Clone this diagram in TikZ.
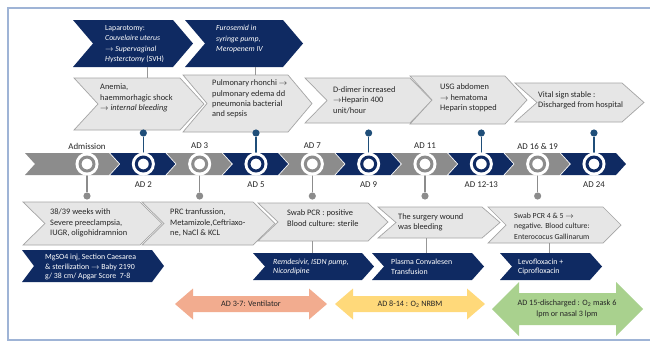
\documentclass[tikz,border=0pt]{standalone}
\usepackage{fontspec}
\setmainfont{Carlito}
\definecolor{navy}{HTML}{0F2A62}
\definecolor{pinblue}{HTML}{1F4E79}
\definecolor{bandgrey}{HTML}{8C8C8C}
\definecolor{boxgrey}{HTML}{E6E6E6}
\definecolor{boxline}{HTML}{A5A5A5}
\definecolor{txt}{HTML}{262626}
\definecolor{frame}{HTML}{9FB4D6}
\definecolor{salmon}{HTML}{F2AC8F}
\definecolor{gold}{HTML}{FFD97A}
\definecolor{leaf}{HTML}{A9D18E}
\tikzset{
  navybox/.style={fill=navy},
  greybox/.style={fill=boxgrey, draw=boxline, line width=0.7},
  navytext/.style={text=white, font=\fontsize{7.8}{10.5}\selectfont, align=left, anchor=west, inner sep=0},
  navysmall/.style={text=white, font=\fontsize{7.9}{9.6}\selectfont, align=left, anchor=west, inner sep=0},
  greytext/.style={text=txt, font=\fontsize{8.4}{10.4}\selectfont, align=left, anchor=west, inner sep=0},
  greysmall/.style={text=txt, font=\fontsize{7.8}{10.5}\selectfont, align=left, anchor=west, inner sep=0},
  daylabel/.style={text=txt, font=\fontsize{8.9}{10}\selectfont, inner sep=0},
  arrowtext/.style={text=txt, font=\fontsize{8.2}{10.5}\selectfont, align=center, inner sep=0},
  link/.style={draw=bandgrey!90, line width=0.9},
  ringnavy/.style={circle, inner sep=0, minimum size=14, fill=white, draw=navy, line width=3, preaction={draw=white, line width=9}},
  ringgrey/.style={circle, inner sep=0, minimum size=14, fill=white, draw=bandgrey, line width=3, preaction={draw=white, line width=9}},
  pintop/.style={circle, inner sep=0, minimum size=7.2, fill=pinblue},
  pinbot/.style={circle, inner sep=0, minimum size=7.2, fill=bandgrey},
}
% chevron: style, L, R, T, B, depth
\newcommand\chev[6]{%
  \path[#1] (#2,#4) -- (#3,#4) -- ({#3+#6},{(#4+#5)/2}) -- (#3,#5) -- (#2,#5) -- ({#2+#6},{(#4+#5)/2}) -- cycle;}
% double arrow: style, xl, xr, yc, head half, shaft half, head length
\newcommand\dblarrow[7]{%
  \path[#1] (#2,#4) -- ({#2+#7},{#4-#5}) -- ({#2+#7},{#4-#6}) -- ({#3-#7},{#4-#6}) -- ({#3-#7},{#4-#5})
    -- (#3,#4) -- ({#3-#7},{#4+#5}) -- ({#3-#7},{#4+#6}) -- ({#2+#7},{#4+#6}) -- ({#2+#7},{#4+#5}) -- cycle;}
\begin{document}
\begin{tikzpicture}[x=1bp,y=-1bp]
\useasboundingbox (0,0) rectangle (650,342);
\fill[white] (0,0) rectangle (650,342);
\draw[frame, line width=1.3] (8,8) rectangle (665,340);

% ---------- top navy row ----------
\chev{navybox}{73}{173}{20}{67}{20}
\node[navytext] (n1) at (105,44) {Laparotomy:\\ \textit{Couvelaire uterus}\\ \textit{$\rightarrow$ Supervaginal}\\ \textit{Hysterctomy} (SVH)};
\chev{navybox}{185}{283}{20}{67}{20}
\node[navytext] (n2) at (216,39) {\textit{Furosemid in}\\ \textit{syringe pump,}\\ \textit{Meropenem IV}};

% ---------- top grey row ----------
\chev{greybox}{74}{180}{78}{130}{24}
\node[greytext] (g1) at (100,98) {Anemia,\\ haemmorhagic shock\\ $\rightarrow$ \textit{internal bleeding}};
\chev{greybox}{183}{288}{75}{132}{24}
\node[greytext] (g2) at (212,99) {Pulmonary rhonchi $\rightarrow$\\ pulmonary edema dd\\ pneumonia bacterial\\ and sepsis};
\chev{greybox}{305}{410}{78}{123}{22}
\node[greytext] (g3) at (333,100) {D-dimer increased\\ $\rightarrow$Heparin 400\\ unit/hour};
\chev{greybox}{410}{505}{76}{124}{22}
\node[greytext] (g4) at (440,98) {USG abdomen\\ $\rightarrow$ hematoma\\ Heparin stopped};
\chev{greybox}{515}{622}{83}{122}{22}
\node[greytext] (g5) at (538,100) {Vital sign stable :\\ Discharged from hospital};

\coordinate (n1b) at (147,67); \coordinate (g1t) at (147,78);
\coordinate (n2b) at (255,67); \coordinate (g2t) at (255,75);
\draw[link] (n1b) -- (g1t);
\draw[link] (n2b) -- (g2t);

% ---------- timeline band ----------
\foreach \k in {0,...,9}{
  \pgfmathsetmacro\c{87+56.33*\k}
  \pgfmathsetmacro\L{ifthenelse(\k==0,25,\c-33)}
  \pgfmathparse{int(mod(\k,2))}
  \ifnum\pgfmathresult=0 \def\col{bandgrey}\else\def\col{navy}\fi
  \fill[\col] (\L,153) -- ({\c+22},153) -- ({\c+32},164) -- ({\c+22},175) -- (\L,175) -- ({\L+10},164) -- cycle;
}
% pins
\foreach \k in {1,3,5,7,9}{
  \pgfmathsetmacro\c{87+56.33*\k}
  \node[pintop] (p\k) at (\c,133) {};
  \coordinate (q\k) at (\c,164);
  \draw[pinblue, line width=1.3] (q\k) -- (p\k);
}
\foreach \k in {0,2,4,6,8}{
  \pgfmathsetmacro\c{87+56.33*\k}
  \node[pinbot] (p\k) at (\c,196) {};
  \coordinate (q\k) at (\c,164);
  \draw[bandgrey, line width=1.3] (q\k) -- (p\k);
}
% rings
\foreach \k in {0,2,4,6,8}{
  \pgfmathsetmacro\c{87+56.33*\k}
  \node[ringgrey] (t\k) at (\c,164) {};
}
\foreach \k in {1,3,5,7,9}{
  \pgfmathsetmacro\c{87+56.33*\k}
  \node[ringnavy] (t\k) at (\c,164) {};
}
% day labels
\foreach \k/\lab in {0/Admission,2/AD 3,4/AD 7,6/AD 11,8/AD 16 \& 19}{
  \pgfmathsetmacro\c{87+56.33*\k}
  \node[daylabel] (l\k) at (\c,146) {\lab};
}
\foreach \k/\lab in {1/AD 2,3/AD 5,5/AD 9,7/AD 12-13,9/AD 24}{
  \pgfmathsetmacro\c{87+56.33*\k}
  \node[daylabel] (l\k) at (\c,185) {\lab};
}

% ---------- bottom grey row ----------
\chev{greybox}{23}{140}{202}{245}{22}
\node[greytext] (b1) at (50,223) {38/39 weeks with\\ Severe preeclampsia,\\ IUGR, oligohidramnion};
\chev{greybox}{142}{253}{202}{245}{22}
\node[greytext] (b2) at (170,223) {PRC tranfussion,\\ Metamizole,Ceftriaxo-\\ ne, NaCl \& KCL};
\chev{greybox}{258}{368}{203}{241}{20}
\node[greytext] (b3) at (287,218) {Swab PCR : positive\\ Blood culture: sterile};
\chev{greybox}{378}{482}{207}{238}{18}
\node[greytext] (b4) at (398,222) {The surgery wound\\ was bleeding};
\chev{greybox}{488}{603}{207}{243}{18}
\node[greysmall] (b5) at (514,226) {Swab PCR 4 \& 5 $\rightarrow$\\ negative. Blood culture:\\ Enterococus Gallinarum};

% ---------- bottom navy row ----------
\chev{navybox}{22}{152}{250}{282}{12}
\node[navysmall] (m1) at (45,267) {MgSO4 inj, Section Caesarea\\ \& sterilization $\rightarrow$ Baby 2190\\ g/ 38 cm/ Apgar Score~ 7-8};
\chev{navybox}{253}{362}{253}{280}{12}
\node[navysmall] (m2) at (273,267) {\textit{Remdesivir, ISDN pump,}\\ \textit{Nicordipine}};
\chev{navybox}{372}{472}{253}{280}{12}
\node[navysmall] (m3) at (391,267) {Plasma Convalesen\\ Transfusion};
\chev{navybox}{500}{590}{253}{280}{12}
\node[navysmall] (m4) at (518,267) {Levofloxacin +\\ Ciprofloxacin};

\coordinate (b3b) at (312,241); \coordinate (m2t) at (312,253);
\coordinate (b4b) at (426,238); \coordinate (m3t) at (426,253);
\coordinate (b5b) at (549,243); \coordinate (m4t) at (549,253);
\draw[link] (b3b) -- (m2t);
\draw[link] (b4b) -- (m3t);
\draw[link] (b5b) -- (m4t);

% ---------- oxygen arrows ----------
\dblarrow{fill=salmon}{175}{327}{304}{15.5}{8}{18}
\node[arrowtext] (a1) at (251,304) {AD 3-7: Ventilator};
\dblarrow{fill=gold}{335}{485}{304}{15.5}{8}{18}
\node[arrowtext] (a2) at (410,304) {AD 8-14 : O\textsubscript{2} NRBM};
\dblarrow{fill=leaf}{492}{643}{309}{27}{16}{27}
\node[arrowtext] (a3) at (567,309) {AD 15-discharged : O\textsubscript{2} mask 6\\ lpm or nasal 3 lpm};
\end{tikzpicture}
\end{document}
